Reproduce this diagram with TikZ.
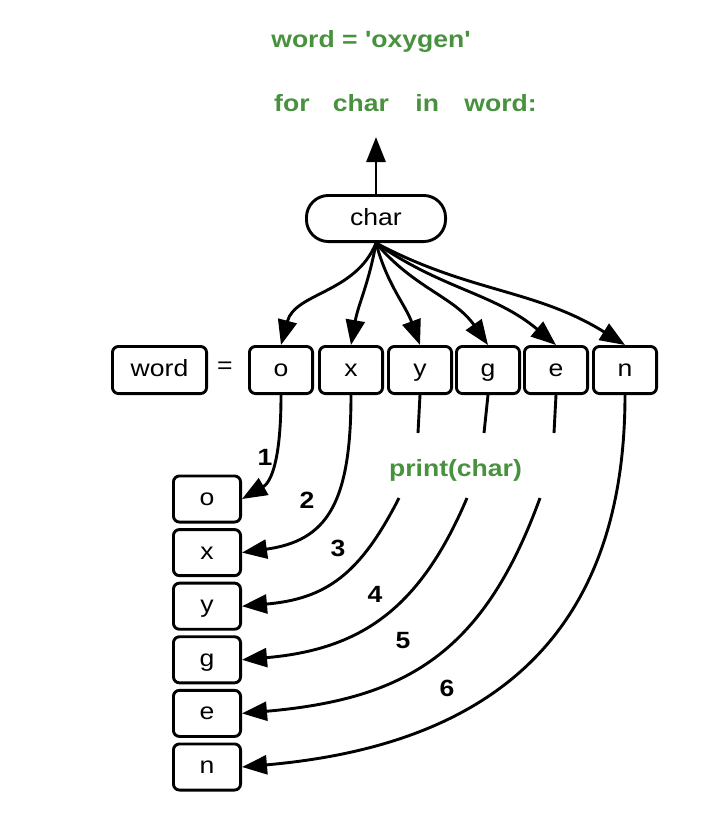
\documentclass[tikz,border=0pt]{standalone}
\usepackage{fontspec}
\newfontfamily\lib{Liberation Sans}[FakeStretch=1.13]
\usetikzlibrary{arrows.meta}
\definecolor{codegreen}{RGB}{72,145,62}
\tikzset{
  txt/.style={font=\lib\fontsize{23.5pt}{28pt}\selectfont, inner sep=0pt},
  cell/.style={txt, draw, line width=2.9pt, rounded corners=6pt,
    text height=17pt, text depth=4pt},
  rowcell/.style={cell, minimum width=63.1pt, minimum height=47.1pt},
  colcell/.style={cell, minimum width=67.1pt, minimum height=46.1pt},
  pill/.style={cell, rounded corners=22pt, minimum width=139.1pt, minimum height=46.1pt},
  code/.style={txt, font=\lib\bfseries\fontsize{23.5pt}{28pt}\selectfont, text=codegreen, anchor=base},
  num/.style={txt, font=\lib\bfseries\fontsize{23.5pt}{28pt}\selectfont, anchor=base},
  arr/.style={line width=2.9pt, -{Triangle[length=25pt,width=19pt]}},
  ln/.style={line width=2.9pt}
}
\begin{document}
\begin{tikzpicture}[x=1pt,y=1pt]
\useasboundingbox (0,0) rectangle (701,-817);

% code text
\node[code] (title) at (371,-47.3) {word = \char"0027 oxygen\char"0027};
\node[code, anchor=base west] (loop) at (274,-111.7) {for\hspace{16pt} char\hspace{19pt} in\hspace{18pt} word:};
\node[code] (print) at (455.5,-476.7) {print(char)};

% char node and arrow up
\node[pill] (char) at (376,-218.5) {char};
\coordinate (up) at (376,-137);
\draw[arr] (char.north) -- (up);

% word row
\node[rowcell, minimum width=94.1pt] (word) at (159.5,-370) {word};
\node[txt] (eq) at (225,-368) {=};
\node[rowcell] (ro) at (281,-370) {o};
\node[rowcell] (rx) at (351,-370) {x};
\node[rowcell] (ry) at (420,-370) {y};
\node[rowcell] (rg) at (488,-370) {g};
\node[rowcell] (re) at (556,-370) {e};
\node[rowcell] (rn) at (625,-370) {n};

% column
\node[colcell] (co) at (207,-499) {o};
\node[colcell] (cx) at (207,-552.6) {x};
\node[colcell] (cy) at (207,-606.2) {y};
\node[colcell] (cg) at (207,-659.8) {g};
\node[colcell] (ce) at (207,-713.4) {e};
\node[colcell] (cn) at (207,-767) {n};

% char -> row
\draw[arr] (char.south) to[out=-112,in=75] (ro.north);
\draw[arr] (char.south) to[out=-100,in=80] (rx.north);
\draw[arr] (char.south) to[out=-75,in=110] (ry.north);
\draw[arr] (char.south) to[out=-50,in=125] (rg.north);
\draw[arr] (char.south) to[out=-35,in=140] (re.north);
\draw[arr] (char.south) to[out=-28,in=148] (rn.north);

% row -> column
\draw[arr] (ro.south) to[out=-90,in=30,out distance=75,in distance=30] (co.east);
\draw[arr] (rx.south) to[out=-90,in=8,out distance=110,in distance=85] (cx.east);

\coordinate (s3) at (418,-433);
\coordinate (t3) at (399,-498);
\draw[ln] (ry.south) -- (s3);
\draw[arr] (t3) to[out=-117,in=5,distance=85] (cy.east);

\coordinate (s4) at (484,-433);
\coordinate (t4) at (467,-498);
\draw[ln] (rg.south) -- (s4);
\draw[arr] (t4) to[out=-113,in=5,distance=120] (cg.east);

\coordinate (s5) at (554,-433);
\coordinate (t5) at (540,-498);
\draw[ln] (re.south) -- (s5);
\draw[arr] (t5) to[out=-110,in=5,distance=165] (ce.east);

\draw[arr] (rn.south) to[out=-90,in=5,distance=245] (cn.east);

% numbers
\node[num] (n1) at (265,-465) {1};
\node[num] (n2) at (307,-508) {2};
\node[num] (n3) at (338,-556.7) {3};
\node[num] (n4) at (375,-602.7) {4};
\node[num] (n5) at (403,-648) {5};
\node[num] (n6) at (447,-696.7) {6};
\end{tikzpicture}
\end{document}
